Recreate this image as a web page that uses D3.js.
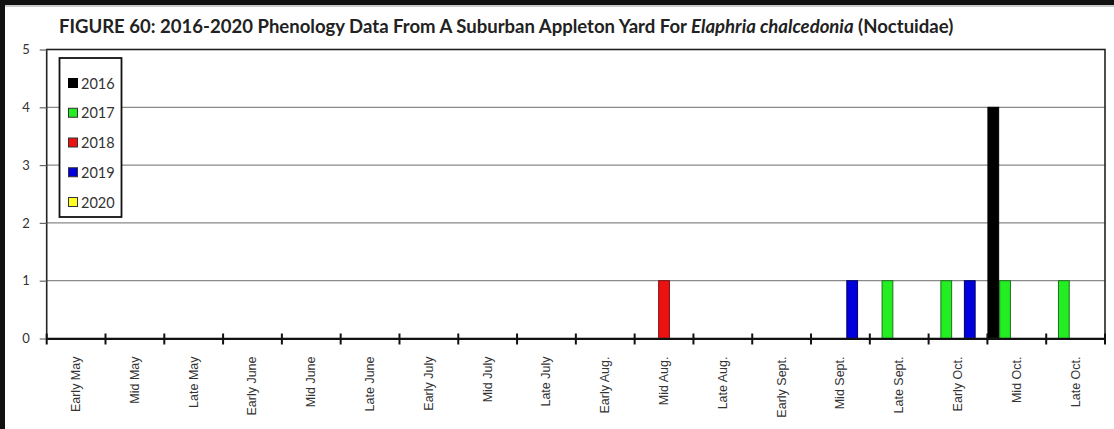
<!DOCTYPE html>
<html>
<head>
<meta charset="utf-8">
<script src="https://cdn.jsdelivr.net/npm/d3@7"></script>
<style>
  html, body { margin: 0; padding: 0; background: #fff; }
  svg { display: block; }
</style>
</head>
<body>
<svg id="chart" width="1114" height="429"></svg>
<script>
// ---- data ----
const categories = ["Early May","Mid May","Late May","Early June","Mid June","Late June",
  "Early July","Mid July","Late July","Early Aug.","Mid Aug.","Late Aug.",
  "Early Sept.","Mid Sept.","Late Sept.","Early Oct.","Mid Oct.","Late Oct."];
const seriesNames = ["2016","2017","2018","2019","2020"];
const values2016 = [0,0,0,0,0,0,0,0,0,0,0,0,0,0,0,0,4,0];
const values2017 = [0,0,0,0,0,0,0,0,0,0,0,0,0,0,1,1,1,1];
const values2018 = [0,0,0,0,0,0,0,0,0,0,1,0,0,0,0,0,0,0];
const values2019 = [0,0,0,0,0,0,0,0,0,0,0,0,0,1,0,1,0,0];
const values2020 = [0,0,0,0,0,0,0,0,0,0,0,0,0,0,0,0,0,0];
const yTicks = [0,1,2,3,4,5];
const titleMain = "FIGURE 60: 2016-2020 Phenology Data From A Suburban Appleton Yard For ";
const titleItalic = "Elaphria chalcedonia";
const titleTail = " (Noctuidae)";

const seriesValues = [values2016, values2017, values2018, values2019, values2020];
const fills = ["#000000", "#22ee22", "#ee1111", "#0000dd", "#ffff22"];
const strokes = ["#000000", "#1f6e1f", "#7a1010", "#00006a", "#6e6e10"];

const svg = d3.select("#chart");
const W = 1114, H = 429;
const plot = { left: 46.7, right: 1105, top: 49.5, bottom: 338.5 };

// outer frame
svg.append("rect").attr("x", 0).attr("y", 0).attr("width", W).attr("height", H).attr("fill", "#fff");
svg.append("rect").attr("x", 0).attr("y", 0).attr("width", W).attr("height", 5).attr("fill", "#111");
svg.append("line").attr("x1", 0).attr("x2", W).attr("y1", 6).attr("y2", 6).attr("stroke", "#999").attr("stroke-width", 1);
svg.append("rect").attr("x", 0).attr("y", 0).attr("width", 5).attr("height", H).attr("fill", "#111");

// scales
const x = d3.scaleBand().domain(categories).range([plot.left, plot.right]).padding(0);
const xs = d3.scaleBand().domain(seriesNames).range([0, x.bandwidth()]).padding(0);
const y = d3.scaleLinear().domain([0, 5]).range([plot.bottom, plot.top]);

// gridlines
svg.append("g").selectAll("line").data(yTicks.filter(d => d > 0 && d < 5)).join("line")
  .attr("x1", plot.left).attr("x2", plot.right)
  .attr("y1", d => y(d)).attr("y2", d => y(d))
  .attr("stroke", "#8a8a8a").attr("stroke-width", 1.2);

// bars
const gBars = svg.append("g");
seriesValues.forEach((vals, si) => {
  gBars.append("g").selectAll("rect")
    .data(vals.map((v, i) => ({ c: categories[i], v })).filter(d => d.v > 0))
    .join("rect")
    .attr("x", d => x(d.c) + xs(seriesNames[si]) + 0.5)
    .attr("width", xs.bandwidth() - 1)
    .attr("y", d => y(d.v))
    .attr("height", d => y(0) - y(d.v))
    .attr("fill", fills[si])
    .attr("stroke", strokes[si])
    .attr("stroke-width", 1);
});

// plot frame
svg.append("rect").attr("x", plot.left).attr("y", plot.top)
  .attr("width", plot.right - plot.left).attr("height", plot.bottom - plot.top)
  .attr("fill", "none").attr("stroke", "#222").attr("stroke-width", 1.6);

// y axis
const yAxis = d3.axisLeft(y).tickValues(yTicks).tickSize(7).tickPadding(10).tickFormat(d3.format("d"));
const gy = svg.append("g").attr("transform", `translate(${plot.left},0)`).call(yAxis);
gy.select(".domain").remove();
gy.selectAll(".tick line").attr("stroke", "#666").attr("stroke-width", 1.2);
gy.selectAll(".tick text").attr("font-family", "Lato, 'Open Sans', sans-serif")
  .attr("font-size", 13).attr("fill", "#333");

// x axis (labels)
const xAxis = d3.axisBottom(x).tickSize(0).tickPadding(0);
const gx = svg.append("g").attr("transform", `translate(0,${plot.bottom})`).call(xAxis);
gx.select(".domain").attr("stroke", "#111").attr("stroke-width", 2.2);
gx.selectAll(".tick text")
  .attr("font-family", "'Liberation Sans', Arial, sans-serif")
  .attr("font-size", 12.5).attr("fill", "#333")
  .attr("text-anchor", "end")
  .attr("dy", null)
  .attr("transform", "translate(0,18) rotate(-90)")
  .attr("x", 0).attr("y", 0)
  .attr("dominant-baseline", "central");

// x edge tick marks (at band boundaries)
const edges = categories.map(c => x(c)).concat([x(categories[categories.length - 1]) + x.bandwidth()]);
svg.append("g").selectAll("line").data(edges).join("line")
  .attr("x1", d => d).attr("x2", d => d)
  .attr("y1", plot.bottom - 5).attr("y2", plot.bottom + 6)
  .attr("stroke", "#111").attr("stroke-width", 2);

// title
const title = svg.append("text").attr("x", 59).attr("y", 33)
  .attr("font-family", "Lato, 'Open Sans', sans-serif").attr("font-weight", "bold")
  .attr("font-size", 15.5).attr("fill", "#222");
title.append("tspan").text(titleMain);
title.append("tspan").attr("font-style", "italic").text(titleItalic);
title.append("tspan").text(titleTail);
const tw = title.node().getComputedTextLength();
const targetW = 895;
title.attr("font-size", 15.5 * targetW / tw);

// legend
const lg = svg.append("g");
lg.append("rect").attr("x", 59.5).attr("y", 58).attr("width", 62).attr("height", 159)
  .attr("fill", "#fff").attr("stroke", "#111").attr("stroke-width", 1.8);
const legendY = d3.scalePoint().domain(seriesNames).range([83, 202]);
seriesNames.forEach((s, i) => {
  lg.append("rect").attr("x", 68.5).attr("y", legendY(s) - 4.5).attr("width", 9).attr("height", 9)
    .attr("fill", fills[i]).attr("stroke", i === 0 ? "#000" : "#333").attr("stroke-width", 1);
  lg.append("text").attr("x", 81).attr("y", legendY(s)).attr("dominant-baseline", "central")
    .attr("font-family", "Lato, 'Open Sans', sans-serif").attr("font-size", 14.5)
    .attr("fill", "#333").text(s);
});
</script>
</body>
</html>
